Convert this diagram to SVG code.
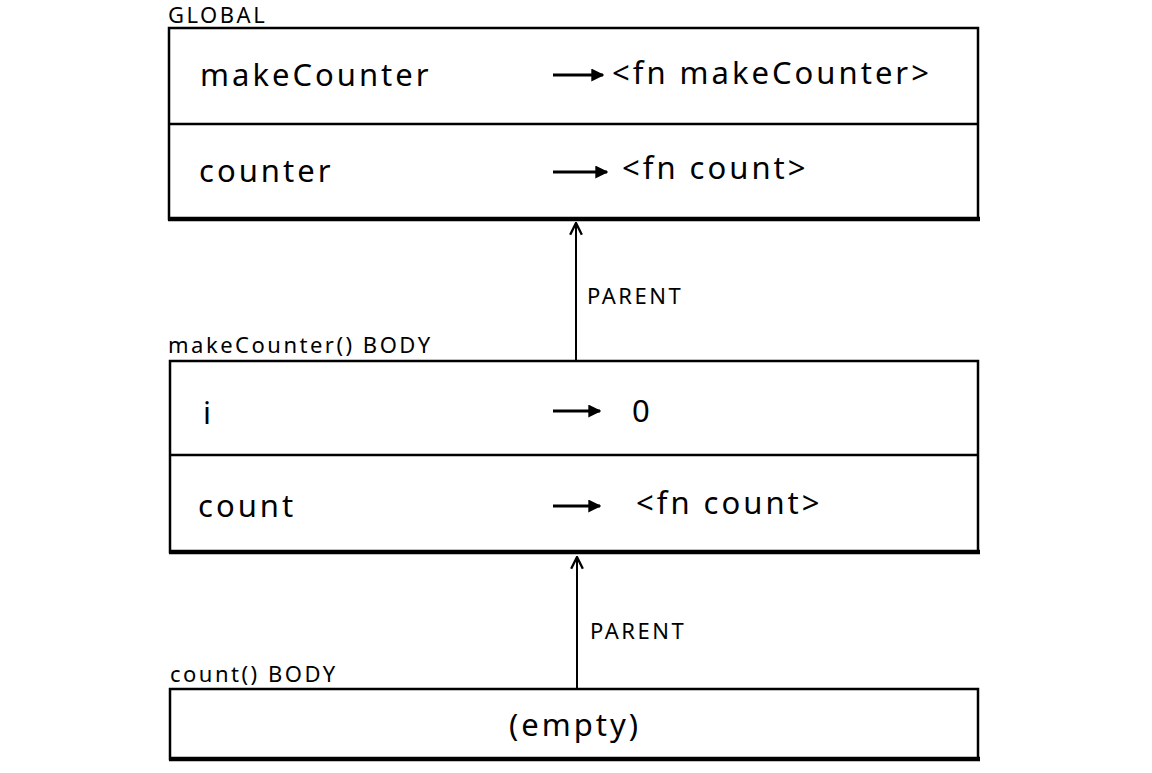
<svg xmlns="http://www.w3.org/2000/svg" width="1152" height="773" viewBox="0 0 1152 773">
<defs>
<marker id="fill" viewBox="0 0 10 10" refX="9" refY="5" markerWidth="13" markerHeight="13" markerUnits="userSpaceOnUse" orient="auto">
<path d="M0,0 L10,5 L0,10 z" fill="#000"/>
</marker>
<marker id="open" viewBox="0 0 12 12" refX="11" refY="6" markerWidth="14" markerHeight="14" markerUnits="userSpaceOnUse" orient="auto">
<path d="M1,1 L11,6 L1,11" fill="none" stroke="#000" stroke-width="2"/>
</marker>
<style>
.frame{fill:#fff;stroke:#000;stroke-width:2.5}
.bottom{stroke:#000;stroke-width:4.5}
.div{stroke:#000;stroke-width:2.5}
.cap{font-family:"Noto Sans",sans-serif;font-size:22px;fill:#000;letter-spacing:2.5px}
.cell{font-family:"Noto Sans",sans-serif;font-size:31px;fill:#000;letter-spacing:3px}
.ptr{stroke:#000;stroke-width:3;marker-end:url(#fill)}
.par{stroke:#000;stroke-width:2;marker-end:url(#open);fill:none}
</style>
</defs>
<rect width="1152" height="773" fill="#fff"/>
<g id="global">
<text class="cap" x="168" y="23">GLOBAL</text>
<rect class="frame" x="169" y="28" width="809" height="191"/>
<line class="bottom" x1="168" y1="219" x2="980" y2="219"/>
<line class="div" x1="169" y1="124" x2="978" y2="124"/>
<text class="cell" x="200" y="86">makeCounter</text>
<text class="cell" x="612" y="84">&lt;fn makeCounter&gt;</text>
<text class="cell" x="199" y="182">counter</text>
<text class="cell" x="622" y="179">&lt;fn count&gt;</text>
</g>
<g id="makeCounterBody">
<text class="cap" x="168" y="353">makeCounter() BODY</text>
<rect class="frame" x="170" y="361" width="808" height="191"/>
<line class="bottom" x1="169" y1="552" x2="980" y2="552"/>
<line class="div" x1="170" y1="455" x2="978" y2="455"/>
<text class="cell" x="203" y="424">i</text>
<text class="cell" x="632" y="422">0</text>
<text class="cell" x="198" y="517">count</text>
<text class="cell" x="636" y="514">&lt;fn count&gt;</text>
</g>
<g id="countBody">
<text class="cap" x="170" y="682">count() BODY</text>
<rect class="frame" x="170" y="689" width="808" height="70"/>
<line class="bottom" x1="169" y1="759" x2="980" y2="759"/>
<text class="cell" x="575" y="736" text-anchor="middle">(empty)</text>
</g>
<g id="connectors">
<line class="ptr" x1="553" y1="75" x2="603" y2="75"/>
<line class="ptr" x1="553" y1="172" x2="607" y2="172"/>
<line class="ptr" x1="553" y1="411" x2="600" y2="411"/>
<line class="ptr" x1="553" y1="506" x2="600" y2="506"/>
<line class="par" x1="576" y1="360" x2="576" y2="223"/>
<text class="cap" x="587" y="304">PARENT</text>
<line class="par" x1="577" y1="688" x2="577" y2="557"/>
<text class="cap" x="590" y="639">PARENT</text>
</g>
</svg>
